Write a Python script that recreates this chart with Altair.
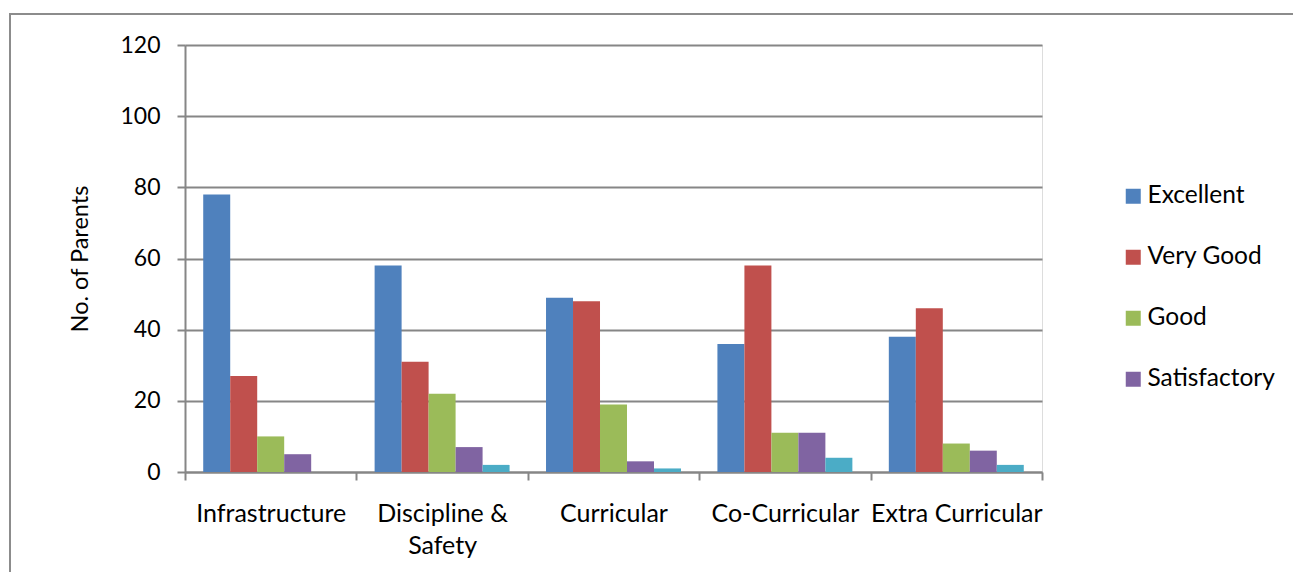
import altair as alt
import pandas as pd

categories = ["Infrastructure", "Discipline & Safety", "Curricular", "Co-Curricular", "Extra Curricular"]
series = ["Excellent", "Very Good", "Good", "Satisfactory", "Poor"]
excellent = [78, 58, 49, 36, 38]
very_good = [27, 31, 48, 58, 46]
good = [10, 22, 19, 11, 8]
satisfactory = [5, 7, 3, 11, 6]
poor = [0, 2, 1, 4, 2]
colors = ["#4F81BD", "#C0504D", "#9BBB59", "#8064A2", "#4BACC6"]
y_ticks = [0, 20, 40, 60, 80, 100, 120]

rows = []
for s, vals in zip(series, [excellent, very_good, good, satisfactory, poor]):
    for c, v in zip(categories, vals):
        rows.append({"category": c, "series": s, "value": v})
df = pd.DataFrame(rows)

FONT = "Lato"
GRID = "#868686"

bars = alt.Chart(df).mark_bar().encode(
    x=alt.X("category:N", sort=categories, title=None,
            scale=alt.Scale(paddingInner=0, paddingOuter=0),
            axis=alt.Axis(labelAngle=0, tickBand="extent", ticks=True, tickSize=8,
                          tickColor=GRID, domainColor=GRID, tickWidth=2, domainWidth=2,
                          labelFont=FONT, labelFontSize=25, labelColor="#000000",
                          labelPadding=21, labelLineHeight=32, labelBaseline="top",
                          labelExpr="datum.label == 'Discipline & Safety' ? ['Discipline &', 'Safety'] : datum.label",
                          grid=False)),
    xOffset=alt.XOffset("series:N", sort=series,
                        scale=alt.Scale(paddingInner=0, paddingOuter=0.675)),
    y=alt.Y("value:Q", title="No. of Parents",
            scale=alt.Scale(domain=[0, 120], nice=False),
            axis=alt.Axis(values=y_ticks, tickSize=8, tickColor=GRID, domainColor=GRID,
                          tickWidth=2, domainWidth=2, gridColor=GRID, gridWidth=2,
                          labelFont=FONT, labelFontSize=23, labelColor="#000000",
                          labelPadding=17, titleFont=FONT, titleFontSize=23.5,
                          titleFontWeight="normal", titleColor="#000000", titlePadding=27)),
    color=alt.Color("series:N", sort=series,
                    scale=alt.Scale(domain=series, range=colors),
                    legend=alt.Legend(values=series[:4], title=None, orient="none",
                                      legendX=936, legendY=139, symbolType="square",
                                      symbolSize=225, symbolStrokeWidth=0,
                                      labelFont=FONT, labelFontSize=24.5, labelColor="#000000",
                                      labelOffset=2, rowPadding=36)),
)

border = alt.Chart(pd.DataFrame({"k": [0]})).mark_rect(
    fill=None, stroke="#8c8c8c", strokeWidth=2, clip=False
).encode(x=alt.value(-175), x2=alt.value(1200), y=alt.value(-31), y2=alt.value(700))

chart = alt.layer(border, bars).properties(
    width=857, height=427,
    autosize=alt.AutoSizeParams(type="none"),
    padding={"left": 177, "top": 37, "right": 251, "bottom": 100},
).configure_view(stroke=None).configure(background="#ffffff")

chart.save("out.html", embed_options={"renderer": "svg", "actions": False})
